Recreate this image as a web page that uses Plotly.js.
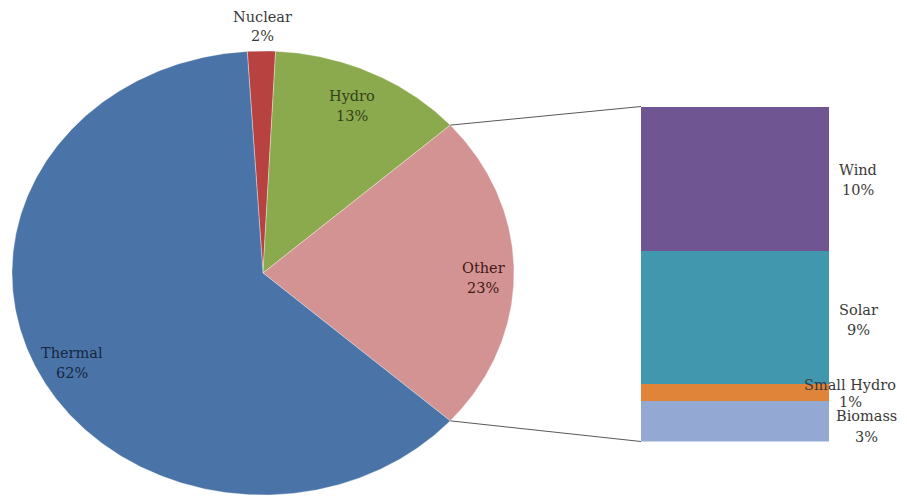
<!DOCTYPE html>
<html>
<head>
<meta charset="utf-8">
<script src="https://cdn.plot.ly/plotly-3.0.1.min.js"></script>
<style>html,body{margin:0;padding:0;background:#fff;}#chart{width:907px;height:497px;}</style>
</head>
<body>
<div id="chart"></div>
<script>
// ---- data ----
var pieLabels = ["Nuclear", "Hydro", "Other", "Thermal"];
var pieValues = [1.8, 12.6, 23.2, 62.4];
var pieColors = ["#B8423F", "#8BA94D", "#D39392", "#4A74A8"];
var pieTextColors = ["#3A3A3A", "#33421A", "#421817", "#16263F"];

var subLabels = ["Biomass", "Small Hydro", "Solar", "Wind"];
var subValues = [2.8, 1.2, 9.2, 10.0];
var subColors = ["#93A8D3", "#DF8439", "#4197AE", "#6F5591"];

// ---- geometry (pixel space) ----
var W = 907, H = 497;
var cx = 263, cy = 273, rx = 251, ry = 222;
var barLeft = 641, barRight = 829, barTop = 106.5, barBottom = 441.5;
var font = "DejaVu Serif, Liberation Serif, serif";
var fs = 14.5;

var total = pieValues.reduce(function(a,b){return a+b;},0);
var otherIdx = pieLabels.indexOf("Other");
var before = 0;
for (var i = 0; i < otherIdx; i++) before += pieValues[i];
// Other slice centred at 3 o'clock (90 deg clockwise from top)
var startDeg = 90 - (before + pieValues[otherIdx]/2) / total * 360;

function pt(deg) {
  var a = deg * Math.PI / 180;
  return [cx + rx * Math.sin(a), cy - ry * Math.cos(a)];
}

var traces = [];
var annotations = [];
var labelPos = {
  "Nuclear": [262, 17, 36],
  "Hydro": [352, 96, 116],
  "Other": [483, 268, 288],
  "Thermal": [72, 353, 373]
};
var acc = startDeg;
var otherStart = 0, otherEnd = 0;
pieValues.forEach(function(v, i) {
  var a0 = acc, a1 = acc + v / total * 360;
  if (i === otherIdx) { otherStart = a0; otherEnd = a1; }
  var xs = [cx], ys = [cy];
  var n = Math.max(4, Math.ceil((a1 - a0) / 0.5));
  for (var k = 0; k <= n; k++) {
    var p = pt(a0 + (a1 - a0) * k / n);
    xs.push(p[0]); ys.push(p[1]);
  }
  xs.push(cx); ys.push(cy);
  traces.push({
    type: "scatter", mode: "lines", x: xs, y: ys, fill: "toself",
    fillcolor: pieColors[i], line: {color: "rgba(255,255,255,0.5)", width: 0.7},
    hoverinfo: "text", text: pieLabels[i] + " " + Math.round(v) + "%",
    xaxis: "x", yaxis: "y", showlegend: false
  });
  acc = a1;
  var lp = labelPos[pieLabels[i]];
  annotations.push({xref: "x", yref: "y", x: lp[0], y: lp[1], text: pieLabels[i], showarrow: false,
    font: {family: font, size: fs, color: pieTextColors[i]}});
  annotations.push({xref: "x", yref: "y", x: lp[0], y: lp[2], text: Math.round(v) + "%", showarrow: false,
    font: {family: font, size: fs, color: pieTextColors[i]}});
});

// ---- bar of pie ----
var subTotal = subValues.reduce(function(a,b){return a+b;},0);
subValues.forEach(function(v, i) {
  traces.push({
    type: "bar", x: [0], y: [v], width: 1, name: subLabels[i],
    marker: {color: subColors[i], line: {width: 0}},
    xaxis: "x2", yaxis: "y2", showlegend: false,
    hoverinfo: "text", text: "", hovertext: subLabels[i] + " " + Math.round(v) + "%"
  });
});
var subLabelPos = {
  "Wind": [858, 170, 190],
  "Solar": [858, 310, 330],
  "Small Hydro": [850, 385, 402],
  "Biomass": [866, 416, 437]
};
subLabels.forEach(function(lbl, i) {
  var lp = subLabelPos[lbl];
  var c = "#3A3A3A";
  annotations.push({xref: "x", yref: "y", x: lp[0], y: lp[2], text: Math.round(subValues[i]) + "%", showarrow: false,
    font: {family: font, size: fs, color: c}});
  annotations.push({xref: "x", yref: "y", x: lp[0], y: lp[1], text: lbl, showarrow: false,
    font: {family: font, size: fs, color: c}});
});

// connector lines
var pA = pt(otherStart), pB = pt(otherEnd);
var shapes = [
  {type: "line", xref: "x", yref: "y", x0: pA[0], y0: pA[1], x1: barLeft, y1: barTop,
   line: {color: "#595959", width: 1}},
  {type: "line", xref: "x", yref: "y", x0: pB[0], y0: pB[1], x1: barLeft, y1: barBottom,
   line: {color: "#595959", width: 1}}
];

var layout = {
  width: W, height: H,
  margin: {l: 0, r: 0, t: 0, b: 0, pad: 0},
  paper_bgcolor: "#ffffff", plot_bgcolor: "rgba(0,0,0,0)",
  showlegend: false,
  barmode: "stack", bargap: 0,
  xaxis: {range: [0, W], visible: false, fixedrange: true, domain: [0, 1]},
  yaxis: {range: [H, 0], visible: false, fixedrange: true, domain: [0, 1]},
  xaxis2: {range: [-0.5, 0.5], visible: false, fixedrange: true, anchor: "y2",
           domain: [barLeft / W, barRight / W]},
  yaxis2: {range: [0, subTotal], visible: false, fixedrange: true, anchor: "x2",
           domain: [1 - barBottom / H, 1 - barTop / H]},
  shapes: shapes,
  annotations: annotations
};

Plotly.newPlot("chart", traces, layout, {displayModeBar: false, staticPlot: true});
</script>
</body>
</html>
